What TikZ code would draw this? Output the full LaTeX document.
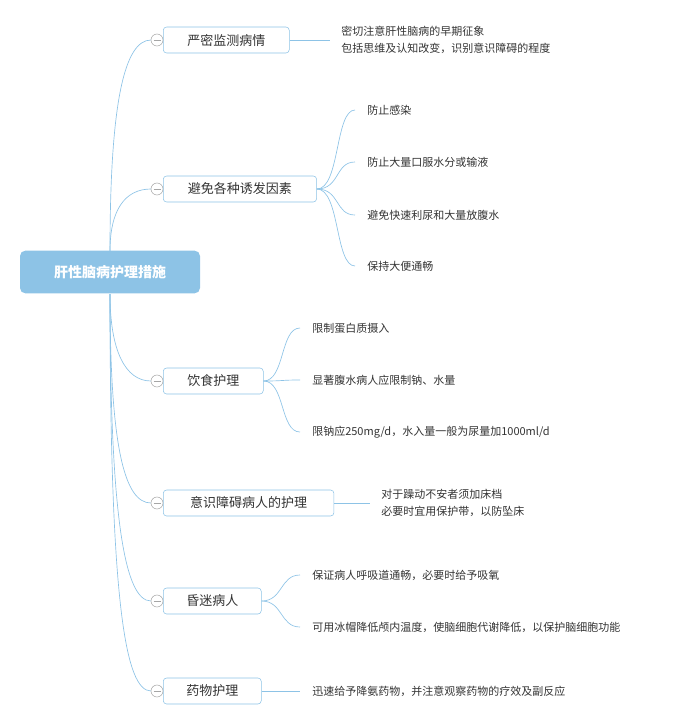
\documentclass[tikz,border=0pt]{standalone}
\usepackage{fontspec}
\setmainfont{Noto Sans CJK SC}
\definecolor{lnk}{HTML}{8DC3E6}
\definecolor{txt}{HTML}{333333}
\begin{document}
\begin{tikzpicture}[x=0.75pt,y=-0.75pt,
 br/.style={draw=lnk,rounded corners=2.5pt,fill=white,anchor=west,minimum height=19.5pt,inner xsep=0pt,text=txt,font=\fontsize{9.75pt}{11pt}\selectfont},
 lf/.style={anchor=west,inner sep=0pt,text=txt,font=\fontsize{8.25pt}{12.5pt}\selectfont,align=left},
 ln/.style={draw=lnk,line width=0.5pt},
 col/.style={circle,draw=gray!70,fill=white,minimum size=9pt,inner sep=0pt}]
\useasboundingbox (0,0) rectangle (678,725);
% root links
\draw[ln] (110,251) .. controls (110,100) and (125,40) .. (151,40) coordinate (e1);
\draw[ln] (110,251) .. controls (110,210) and (125,189) .. (151,189) coordinate (e2);
\draw[ln] (110,294) .. controls (110,350) and (125,381) .. (151,381) coordinate (e3);
\draw[ln] (110,294) .. controls (110,450) and (125,503) .. (151,503) coordinate (e4);
\draw[ln] (110,294) .. controls (110,520) and (125,601) .. (151,601) coordinate (e5);
\draw[ln] (110,294) .. controls (110,600) and (125,691) .. (151,691) coordinate (e6);
\node[draw=none,fill=lnk,rounded corners=4pt,minimum width=135pt,minimum height=32pt,text=white,font=\fontsize{10.5pt}{12pt}\selectfont\bfseries] (root) at (110,272) {肝性脑病护理措施};
% branches
\node[br,minimum width=94.5pt] (b1) at (163,40) {严密监测病情};
\node[br,minimum width=115pt] (b2) at (163,189) {避免各种诱发因素};
\node[br,minimum width=75pt] (b3) at (163,381) {饮食护理};
\node[br,minimum width=128pt] (b4) at (163,503) {意识障碍病人的护理};
\node[br,minimum width=73.5pt] (b5) at (163,601) {昏迷病人};
\node[br,minimum width=73.5pt] (b6) at (163,691) {药物护理};
\foreach \i/\y in {1/40,2/189,3/381,4/503,5/601,6/691}{
 \node[col] (c\i) at (157,\y) {};
 \draw[gray!70,line width=0.5pt] (153.5,\y) -- (160.5,\y);
}
% leaves
\node[lf] (l1) at (341,40) {密切注意肝性脑病的早期征象\\包括思维及认知改变，识别意识障碍的程度};
\draw[ln] (b1.east) -- (330,40);
\foreach \y/\t [count=\k] in {110/防止感染,162/防止大量口服水分或输液,215/避免快速利尿和大量放腹水,266/保持大便通畅}{
 \node[lf] (l2\k) at (367,\y) {\t};
 \draw[ln] (b2.east) .. controls (340,189) and (335,\y) .. (355,\y);
}
\foreach \y/\t [count=\k] in {328/{限制蛋白质摄入},380/{显著腹水病人应限制钠、水量},432/{限钠应250mg/d，水入量一般为尿量加1000ml/d}}{
 \node[lf] (l3\k) at (312,\y) {\t};
 \draw[ln] (b3.east) .. controls (285,381) and (280,\y) .. (300,\y);
}
\node[lf] (l4) at (381,503) {对于躁动不安者须加床档\\必要时宜用保护带，以防坠床};
\draw[ln] (b4.east) -- (370,503);
\foreach \y/\t [count=\k] in {575/保证病人呼吸道通畅，必要时给予吸氧,627/可用冰帽降低颅内温度，使脑细胞代谢降低，以保护脑细胞功能}{
 \node[lf] (l5\k) at (312,\y) {\t};
 \draw[ln] (b5.east) .. controls (283,601) and (280,\y) .. (300,\y);
}
\node[lf] (l6) at (312,691) {迅速给予降氨药物，并注意观察药物的疗效及副反应};
\draw[ln] (b6.east) -- (300,691);
\end{tikzpicture}
\end{document}
